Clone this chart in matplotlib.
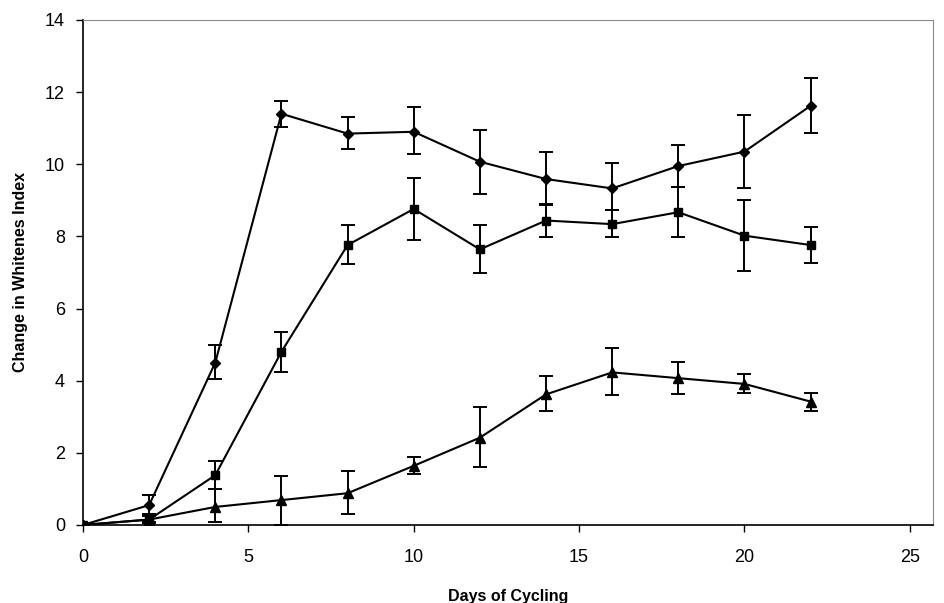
import numpy as np
import matplotlib.pyplot as plt

plt.rcParams['font.family'] = ['Liberation Sans', 'DejaVu Sans']

# Data
days = [0, 2, 4, 6, 8, 10, 12, 14, 16, 18, 20, 22]

diamond = [0, 0.55, 4.5, 11.4, 10.85, 10.9, 10.07, 9.59, 9.33, 9.95, 10.35, 11.62]
diamond_lo = [0, 0.3, 4.05, 11.04, 10.42, 10.28, 9.18, 8.87, 8.72, 9.36, 9.35, 10.86]
diamond_hi = [0, 0.83, 5.0, 11.74, 11.3, 11.58, 10.95, 10.33, 10.03, 10.54, 11.37, 12.39]

square = [0, 0.15, 1.38, 4.8, 7.76, 8.76, 7.64, 8.44, 8.34, 8.67, 8.02, 7.76]
square_lo = [0, 0.05, 0.99, 4.25, 7.23, 7.9, 6.98, 7.98, 7.97, 7.97, 7.04, 7.27]
square_hi = [0, 0.3, 1.77, 5.35, 8.32, 9.62, 8.31, 8.89, 8.73, 9.38, 9.01, 8.26]

triangle = [0, 0.15, 0.5, 0.69, 0.88, 1.64, 2.42, 3.62, 4.23, 4.07, 3.91, 3.42]
triangle_lo = [0, 0.08, 0.09, 0.0, 0.3, 1.41, 1.6, 3.16, 3.6, 3.62, 3.65, 3.16]
triangle_hi = [0, 0.25, 0.99, 1.36, 1.5, 1.88, 3.26, 4.13, 4.9, 4.52, 4.18, 3.65]

series = [
    (diamond, diamond_lo, diamond_hi, 'D', 5),
    (square, square_lo, square_hi, 's', 6),
    (triangle, triangle_lo, triangle_hi, '^', 7),
]

fig = plt.figure(figsize=(9.45, 6.03), dpi=100)
ax = fig.add_axes([0.0878, 0.1294, 0.8995, 0.8375])

for vals, lo, hi, mk, ms in series:
    vals = np.array(vals)
    yerr = [vals - np.array(lo), np.array(hi) - vals]
    ax.errorbar(days, vals, yerr=yerr, color='black', marker=mk, markersize=ms,
                linewidth=1.5, elinewidth=1.4, capsize=5, capthick=1.4, zorder=3)

ax.set_xlim(0, 25.7)
ax.set_ylim(0, 14)
ax.set_xticks([0, 5, 10, 15, 20, 25])
ax.set_yticks(range(0, 15, 2))
ax.tick_params(direction='out', length=5, width=1, labelsize=13)
ax.tick_params(axis='x', pad=12)
ax.tick_params(axis='y', pad=8)

for s in ['top', 'right']:
    ax.spines[s].set_color('#8a8a8a')
    ax.spines[s].set_linewidth(0.8)
for s in ['left', 'bottom']:
    ax.spines[s].set_color('black')
    ax.spines[s].set_linewidth(1.2)

ax.set_xlabel('Days of Cycling', fontsize=11.5, fontweight='bold', labelpad=17)
ax.set_ylabel('Change in Whitenes Index', fontsize=11.5, fontweight='bold', labelpad=12)

fig.savefig('out.png', dpi=100)
